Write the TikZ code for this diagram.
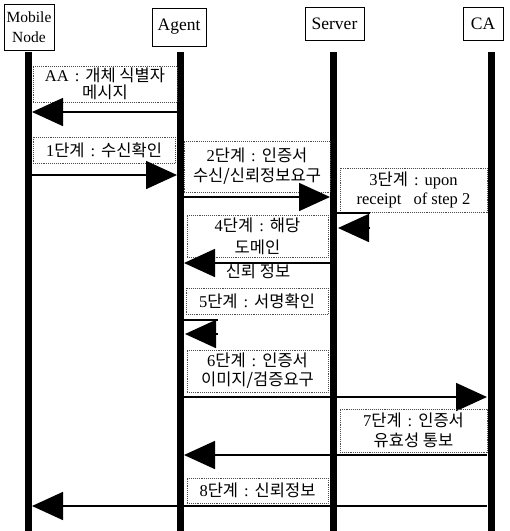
\documentclass[tikz,border=0pt]{standalone}
\usepackage{fontspec}
\setmainfont{Liberation Serif}
\newfontfamily\kr{Noto Sans CJK KR}
\usetikzlibrary{arrows.meta}
\newcommand{\K}[1]{{\kr #1}}
\newcommand{\C}{\hspace{6pt}:\hspace{6pt}}
\tikzset{
  lifeline/.style={line width=7pt},
  headbox/.style={draw, line width=1pt, inner sep=0pt, align=center, font=\fontsize{17.5}{19}\selectfont},
  msgbox/.style={draw=black!70, densely dotted, line width=0.9pt, inner sep=0pt, align=center, font=\fontsize{16.5}{19}\selectfont},
  msg/.style={line width=1.6pt, -{Triangle[length=31pt,width=28pt]}},
  selfline/.style={line width=1.6pt},
  lbl/.style={inner sep=0pt, font=\fontsize{16.5}{19}\selectfont}
}
\begin{document}
\begin{tikzpicture}[x=1pt,y=-1pt]
\useasboundingbox (0,0) rectangle (510,531);
% headers
\node[headbox, minimum width=50, minimum height=46, font=\fontsize{15.5}{20}\selectfont] (mn) at (29,27) {Mobile\\Node};
\node[headbox, minimum width=54, minimum height=38] (ag) at (179,27) {Agent};
\node[headbox, minimum width=59, minimum height=33] (sv) at (334.5,23.5) {Server};
\node[headbox, minimum width=40, minimum height=33] (ca) at (483,23.5) {CA};
% lifelines
\coordinate (mnT) at (28.5,52); \coordinate (mnB) at (28.5,531);
\coordinate (agT) at (180.5,52); \coordinate (agB) at (180.5,531);
\coordinate (svT) at (333.5,52); \coordinate (svB) at (333.5,531);
\coordinate (caT) at (491,52); \coordinate (caB) at (491,531);
\draw[lifeline] (mnT) -- (mnB);
\draw[lifeline] (agT) -- (agB);
\draw[lifeline] (svT) -- (svB);
\draw[lifeline] (caT) -- (caB);
% AA
\node[msgbox, minimum width=144, minimum height=36, font=\fontsize{16.5}{17.5}\selectfont] (b0) at (105,84) {AA\C\K{개체 식별자}\\\K{메시지}};
\coordinate (a0s) at (177,112); \coordinate (a0e) at (32,112);
\draw[msg] (a0s) -- (a0e);
% step 1
\node[msgbox, minimum width=142, minimum height=26] (b1) at (104,150) {1\K{단계}\C\K{수신확인}};
\coordinate (a1s) at (32,175); \coordinate (a1e) at (177,175);
\draw[msg] (a1s) -- (a1e);
% step 2
\node[msgbox, minimum width=146, minimum height=51, font=\fontsize{16.5}{20}\selectfont] (b2) at (257,166.5) {2\K{단계}\C\K{인증서}\\\K{수신/신뢰정보요구}};
\coordinate (a2s) at (184,197); \coordinate (a2e) at (330,197);
\draw[msg] (a2s) -- (a2e);
% step 3
\node[msgbox, minimum width=147, minimum height=44] (b3) at (413.5,190) {3\K{단계}\C upon\\receipt\hspace{12pt}of step 2};
\coordinate (a3a) at (337,213); \coordinate (a3b) at (370,213);
\coordinate (a3s) at (370,228); \coordinate (a3e) at (338,228);
\draw[selfline] (a3a) -- (a3b);
\draw[msg] (a3s) -- (a3e);
% step 4
\node[msgbox, minimum width=141, minimum height=42] (b4) at (257.5,236) {4\K{단계}\C\K{해당}\\[3pt]\K{도메인}};
\coordinate (a4s) at (330,263); \coordinate (a4e) at (184,263);
\draw[msg] (a4s) -- (a4e);
\node[lbl] (l4) at (258,271) {\K{신뢰 정보}};
% step 5
\node[msgbox, minimum width=142, minimum height=26] (b5) at (257,301) {5\K{단계}\C\K{서명확인}};
\coordinate (a5a) at (184,320); \coordinate (a5b) at (218,320);
\coordinate (a5s) at (218,334); \coordinate (a5e) at (185,334);
\draw[selfline] (a5a) -- (a5b);
\draw[msg] (a5s) -- (a5e);
% step 6
\node[msgbox, minimum width=141, minimum height=42] (b6) at (257.5,371) {6\K{단계}\C\K{인증서}\\\K{이미지/검증요구}};
\coordinate (a6s) at (184,397); \coordinate (a6e) at (487,397);
\draw[msg] (a6s) -- (a6e);
% step 7
\node[msgbox, minimum width=147, minimum height=43, font=\fontsize{16.5}{20}\selectfont] (b7) at (413.5,430.5) {7\K{단계}\C\K{인증서}\\\K{유효성 통보}};
\coordinate (a7s) at (487,455); \coordinate (a7e) at (184,455);
\draw[msg] (a7s) -- (a7e);
% step 8
\node[msgbox, minimum width=141, minimum height=25] (b8) at (257.5,490.5) {8\K{단계}\C\K{신뢰정보}};
\coordinate (a8s) at (487,506); \coordinate (a8e) at (32,506);
\draw[msg] (a8s) -- (a8e);
\end{tikzpicture}
\end{document}
